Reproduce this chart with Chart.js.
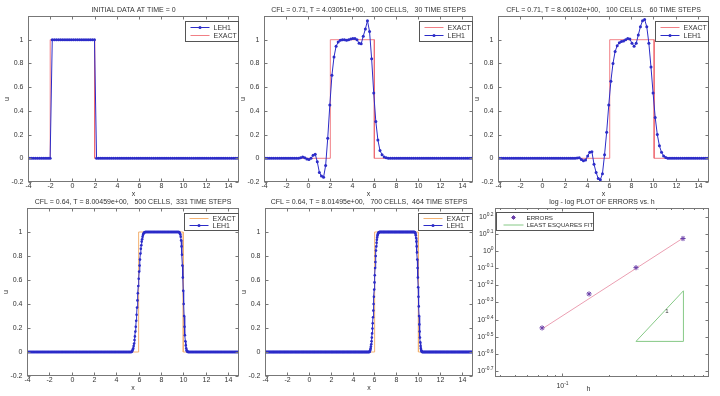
<!DOCTYPE html>
<html>
<head>
<meta charset="utf-8">
<script src="https://cdn.jsdelivr.net/npm/chart.js@4.4.1/dist/chart.umd.min.js"></script>
<style>
  html, body { margin: 0; padding: 0; background: #fff; }
  #fig { position: relative; width: 720px; height: 396px; overflow: hidden; background: #fff; }
  #fig canvas { position: absolute; }
</style>
</head>
<body>
<div id="fig"></div>
<script>
// ---- data ----
const X_MIN = -4, X_MAX = 15;
const xTicks = [-4, -2, 0, 2, 4, 6, 8, 10, 12, 14];
const uTicks = [-0.2, 0, 0.2, 0.4, 0.6, 0.8, 1];
const uTickLabels = ['-0.2', '0', '0.2', '0.4', '0.6', '0.8', '1'];

// exact solution: square pulse, corner points
const exactU = [0, 0, 1, 1, 0, 0];
const exactX0 = [-4, -2, -2, 2, 2, 15];
const exactX30 = [-4, 2.03, 2.03, 6.03, 6.03, 15];
const exactX60 = [-4, 6.06, 6.06, 10.06, 10.06, 15];
const exactX331 = [-4, 6.005, 6.005, 10.005, 10.005, 15];
const exactX464 = [-4, 6.015, 6.015, 10.015, 10.015, 15];

// LEH1 cell values (cell centres on [-4, 15])
const leh1T0 = [...run(0, 11), ...run(1, 21), ...run(0, 68)];
const leh1T30 = [...run(0, 17),
  0.005, 0.01, 0.005, -0.005, -0.01, 0, 0.025, 0.035, -0.03, -0.12, -0.15, -0.16, -0.06,
  0.17, 0.45, 0.70, 0.855, 0.945, 0.98, 0.995, 1.0, 1.0, 0.995, 1.0, 1.005, 1.01, 1.01,
  1.0, 0.97, 0.965, 1.03, 1.09, 1.16, 1.07, 0.84, 0.55, 0.31, 0.155, 0.065, 0.03, 0.01, 0.005,
  ...run(0, 41)];
const leh1T60 = [...run(0, 37),
  0.003, 0.005, -0.01, -0.02, -0.015, 0.02, 0.05, 0.055, -0.05, -0.12, -0.17, -0.18, -0.13,
  0.03, 0.22, 0.45, 0.65, 0.80, 0.90, 0.95, 0.975, 0.985, 0.99, 1.0, 1.01, 1.005, 0.97,
  0.945, 0.97, 1.04, 1.11, 1.16, 1.17, 1.11, 0.97, 0.77, 0.55, 0.345, 0.2, 0.105, 0.05, 0.02, 0.007,
  ...run(0, 20)];
const riseT331 = [0.005, 0.01, 0.02, 0.03, 0.05, 0.07, 0.10, 0.13, 0.17, 0.21, 0.26, 0.31, 0.37,
  0.43, 0.49, 0.55, 0.61, 0.67, 0.72, 0.77, 0.82, 0.86, 0.89, 0.92, 0.94, 0.96, 0.975, 0.985,
  0.99, 0.995, 0.998, 1.0];
const fallT331 = [1.0, 0.997, 0.99, 0.98, 0.96, 0.93, 0.88, 0.81, 0.72, 0.62, 0.51, 0.40, 0.30,
  0.21, 0.14, 0.09, 0.055, 0.03, 0.015, 0.007, 0.003, 0.001];
const leh1T331 = [...run(0, 247), ...riseT331, ...run(1, 79), ...fallT331, ...run(0, 120)];
const riseT464 = [0.005, 0.01, 0.018, 0.03, 0.045, 0.065, 0.09, 0.12, 0.155, 0.195, 0.24, 0.29,
  0.345, 0.40, 0.46, 0.52, 0.58, 0.64, 0.70, 0.75, 0.80, 0.845, 0.88, 0.91, 0.935, 0.955, 0.97,
  0.98, 0.988, 0.993, 0.996, 0.998, 1.0];
const fallT464 = [0.999, 0.997, 0.993, 0.985, 0.972, 0.95, 0.92, 0.88, 0.83, 0.77, 0.70, 0.62,
  0.54, 0.46, 0.38, 0.30, 0.23, 0.17, 0.12, 0.08, 0.05, 0.03, 0.016, 0.008, 0.003, 0.001];
const leh1T464 = [...run(0, 352), ...riseT464, ...run(1, 118), ...fallT464, ...run(0, 171)];

// convergence plot
const hVals = [0.0745, 0.149, 0.298, 0.596];
const errVals = [0.356, 0.562, 0.800, 1.183];
const fitH = [0.0745, 0.596];
const fitErr = [0.351, 1.189];
const triH = [0.298, 0.6, 0.6, 0.298];
const triErr = [0.297, 0.297, 0.586, 0.297];
const errTickExp = [0.2, 0.1, 0, -0.1, -0.2, -0.3, -0.4, -0.5, -0.6, -0.7];
const errTickLabels = ['0.2', '0.1', '0', '-0.1', '-0.2', '-0.3', '-0.4', '-0.5', '-0.6', '-0.7'];
const hMajor = [0.1];
const hMajorLabels = ['-1'];
const hMinor = [0.04, 0.05, 0.06, 0.07, 0.08, 0.09, 0.2, 0.3, 0.4, 0.5, 0.6, 0.7, 0.8];

function run(v, n) {
  return new Array(n).fill(v);
}

// ---- drawing ----
const fig = document.getElementById('fig');
const FONT = '"Liberation Sans", Arial, sans-serif';
const FS = 7;
const TXT = '#333';
const FRAME = '#777';
const BLUE = '#2c2cc8';
const RED = 'rgba(238, 104, 112, 0.85)';
const ORANGE = '#f3b272';
Chart.defaults.font.family = FONT;

function cellCentres(n) {
  const dx = (X_MAX - X_MIN) / n;
  return Array.from({ length: n }, (_, i) => X_MIN + (i + 0.5) * dx);
}
const pts = (xs, ys) => xs.map((x, i) => ({ x, y: ys[i] }));

function drawTickText(ctx, t, x, y, align, fs) {
  if (typeof t === 'string') {
    ctx.font = `${fs}px ${FONT}`;
    ctx.textAlign = align;
    ctx.fillText(t, x, y);
    return;
  }
  ctx.font = `${fs}px ${FONT}`;
  const wb = ctx.measureText('10').width;
  ctx.font = `${fs * 0.7}px ${FONT}`;
  const we = ctx.measureText(t.exp).width;
  let x0 = x;
  if (align === 'right') x0 = x - wb - we;
  else if (align === 'center') x0 = x - (wb + we) / 2;
  ctx.textAlign = 'left';
  ctx.font = `${fs}px ${FONT}`;
  ctx.fillText('10', x0, y);
  ctx.font = `${fs * 0.7}px ${FONT}`;
  ctx.fillText(t.exp, x0 + wb, y - 3);
}

const matlabAxes = {
  id: 'matlabAxes',
  afterDraw(chart) {
    const o = chart.options.plugins.matlabAxes;
    const { ctx, chartArea: a, scales } = chart;
    const L = Math.round(a.left) + 0.5, R = Math.round(a.right) - 0.5;
    const T = Math.round(a.top) + 0.5, B = Math.round(a.bottom) - 0.5;
    ctx.save();
    ctx.strokeStyle = FRAME;
    ctx.lineWidth = 1;
    ctx.strokeRect(L, T, R - L, B - T);
    ctx.fillStyle = TXT;
    ctx.textBaseline = 'middle';

    o.xTicks.forEach((t) => {
      const x = Math.round(scales.x.getPixelForValue(t.v)) + 0.5;
      const len = t.minor ? 1.5 : 3;
      ctx.beginPath();
      ctx.moveTo(x, B); ctx.lineTo(x, B - len);
      ctx.moveTo(x, T); ctx.lineTo(x, T + len);
      ctx.stroke();
      if (t.label) drawTickText(ctx, t.label, x, B + o.xLabelGap, 'center', FS);
    });
    o.yTicks.forEach((t) => {
      const y = Math.round(scales.y.getPixelForValue(t.v)) + 0.5;
      ctx.beginPath();
      ctx.moveTo(L, y); ctx.lineTo(L + 3, y);
      ctx.moveTo(R, y); ctx.lineTo(R - 3, y);
      ctx.stroke();
      drawTickText(ctx, t.label, L - o.yLabelGap, y, 'right', FS);
    });

    ctx.font = `${FS}px ${FONT}`;
    ctx.textAlign = 'center';
    ctx.fillText(o.title, (L + R) / 2, T - 6.5);
    ctx.fillText(o.xlabel, o.xlabelX != null ? L + o.xlabelX : (L + R) / 2, B + 13);
    if (o.ylabel) {
      ctx.save();
      ctx.translate(L - 21, (T + B) / 2);
      ctx.rotate(-Math.PI / 2);
      ctx.fillText(o.ylabel, 0, 0);
      ctx.restore();
    }
    (o.notes || []).forEach((n) => {
      ctx.font = `${FS - 1}px ${FONT}`;
      ctx.fillText(n.text, scales.x.getPixelForValue(n.x), scales.y.getPixelForValue(n.y));
    });

    const g = o.legend;
    const lx = Math.round(g.align === 'right' ? R - g.dx - g.w : L + g.dx) + 0.5;
    const ly = Math.round(T + g.dy) + 0.5;
    ctx.fillStyle = '#fff';
    ctx.fillRect(lx, ly, g.w, g.h);
    ctx.strokeStyle = '#555';
    ctx.strokeRect(lx, ly, g.w, g.h);
    g.items.forEach((it, k) => {
      const y = ly + g.row0 + k * g.gap;
      const x0 = lx + g.s0, x1 = lx + g.s1;
      ctx.strokeStyle = it.color;
      ctx.fillStyle = it.color;
      if (it.line) {
        ctx.beginPath();
        ctx.moveTo(x0, y); ctx.lineTo(x1, y);
        ctx.stroke();
      }
      if (it.dot) {
        ctx.beginPath();
        ctx.arc((x0 + x1) / 2, y, 1.5, 0, Math.PI * 2);
        ctx.fill();
      }
      if (it.star) {
        const cx = (x0 + x1) / 2, r = 2.2;
        ctx.beginPath();
        ctx.moveTo(cx - r, y); ctx.lineTo(cx + r, y);
        ctx.moveTo(cx, y - r); ctx.lineTo(cx, y + r);
        ctx.moveTo(cx - r * 0.7, y - r * 0.7); ctx.lineTo(cx + r * 0.7, y + r * 0.7);
        ctx.moveTo(cx - r * 0.7, y + r * 0.7); ctx.lineTo(cx + r * 0.7, y - r * 0.7);
        ctx.stroke();
      }
      ctx.fillStyle = TXT;
      ctx.textAlign = 'left';
      ctx.font = `${g.fs}px ${FONT}`;
      ctx.fillText(it.label, lx + g.tx, y + 0.5);
    });
    ctx.restore();
  }
};

function addChart(box, datasets, scales, axes) {
  const pad = { left: 30, top: 18, right: 8, bottom: 22 };
  const cv = document.createElement('canvas');
  const w = box.r - box.l + pad.left + pad.right;
  const h = box.b - box.t + pad.top + pad.bottom;
  cv.width = w;
  cv.height = h;
  cv.style.left = `${box.l - pad.left}px`;
  cv.style.top = `${box.t - pad.top}px`;
  cv.style.width = `${w}px`;
  cv.style.height = `${h}px`;
  fig.append(cv);
  return new Chart(cv, {
    type: 'line',
    data: { datasets },
    plugins: [matlabAxes],
    options: {
      responsive: false,
      animation: false,
      events: [],
      layout: { padding: pad },
      scales,
      plugins: { legend: { display: false }, tooltip: { enabled: false }, matlabAxes: axes }
    }
  });
}

const leh1Set = (n, us, r) => ({
  label: 'LEH1', data: pts(cellCentres(n), us), borderColor: BLUE, borderWidth: 1,
  pointRadius: r, pointBorderWidth: 0, pointBackgroundColor: BLUE, tension: 0
});
const exactSet = (xs, color) => ({
  label: 'EXACT', data: pts(xs, exactU), borderColor: color, borderWidth: 1, pointRadius: 0, tension: 0
});
const uScales = {
  x: { type: 'linear', display: false, min: X_MIN, max: X_MAX },
  y: { type: 'linear', display: false, min: -0.2, max: 1.2 }
};
const xT = xTicks.map((v) => ({ v, label: String(v) }));
const yT = uTicks.map((v, i) => ({ v, label: uTickLabels[i] }));
const legTop = { align: 'right', dx: 1, dy: 4, w: 53, h: 20, row0: 6, gap: 8, s0: 5, s1: 24, tx: 28, fs: FS };
const legBot = { align: 'right', dx: 1, dy: 4, w: 54, h: 17, row0: 5, gap: 7, s0: 5, s1: 24, tx: 28, fs: FS };
const itLeh = { label: 'LEH1', color: BLUE, line: true, dot: true };
const itExRed = { label: 'EXACT', color: RED, line: true };
const itExOr = { label: 'EXACT', color: ORANGE, line: true };
const uAxes = (title, legend) => ({
  title, xlabel: 'x', ylabel: 'u', xTicks: xT, yTicks: yT, xLabelGap: 4.5, yLabelGap: 5, legend
});

addChart({ l: 28, t: 16, r: 239, b: 182 },
  [leh1Set(100, leh1T0, 1.5), exactSet(exactX0, RED)], uScales,
  uAxes('INITIAL DATA AT TIME = 0', { ...legTop, items: [itLeh, itExRed] }));
addChart({ l: 264, t: 16, r: 473, b: 182 },
  [leh1Set(100, leh1T30, 1.5), exactSet(exactX30, RED)], uScales,
  uAxes('CFL = 0.71, T = 4.03051e+00,   100 CELLS,   30 TIME STEPS', { ...legTop, items: [itExRed, itLeh] }));
addChart({ l: 498, t: 16, r: 709, b: 182 },
  [leh1Set(100, leh1T60, 1.5), exactSet(exactX60, RED)], uScales,
  uAxes('CFL = 0.71, T = 8.06102e+00,   100 CELLS,   60 TIME STEPS', { ...legTop, items: [itExRed, itLeh] }));
addChart({ l: 27, t: 208, r: 239, b: 376 },
  [leh1Set(500, leh1T331, 1.3), exactSet(exactX331, ORANGE)], uScales,
  uAxes('CFL = 0.64, T = 8.00459e+00,   500 CELLS,  331 TIME STEPS', { ...legBot, items: [itExOr, itLeh] }));
addChart({ l: 265, t: 208, r: 473, b: 376 },
  [leh1Set(700, leh1T464, 1.3), exactSet(exactX464, ORANGE)], uScales,
  uAxes('CFL = 0.64, T = 8.01495e+00,   700 CELLS,  464 TIME STEPS', { ...legBot, items: [itExOr, itLeh] }));

// log-log error plot
addChart({ l: 495, t: 208, r: 709, b: 377 },
  [
    { label: 'ERRORS', data: pts(hVals, errVals), showLine: false, pointStyle: 'star',
      pointRadius: 2.6, pointBorderWidth: 1, pointBorderColor: '#6a3fa8' },
    { label: 'FIT', data: pts(fitH, fitErr), borderColor: '#eb9fb2', borderWidth: 1, pointRadius: 0 },
    { label: 'SLOPE', data: pts(triH, triErr), borderColor: '#86c986', borderWidth: 1, pointRadius: 0 }
  ],
  {
    x: { type: 'logarithmic', display: false, min: 0.0372, max: 0.875 },
    y: { type: 'logarithmic', display: false, min: Math.pow(10, -0.735), max: Math.pow(10, 0.251) }
  },
  {
    title: 'log - log PLOT OF ERRORS vs. h', xlabel: 'h', xlabelX: 93, ylabel: null,
    xTicks: [
      ...hMajor.map((v, i) => ({ v, label: { exp: hMajorLabels[i] } })),
      ...hMinor.map((v) => ({ v, minor: true }))
    ],
    yTicks: errTickExp.map((e, i) => ({ v: Math.pow(10, e), label: { exp: errTickLabels[i] } })),
    xLabelGap: 10, yLabelGap: 2,
    notes: [{ x: 0.47, y: 0.445, text: '1' }],
    legend: {
      align: 'left', dx: 0, dy: 3, w: 97, h: 18, row0: 5, gap: 7.5, s0: 7, s1: 27, tx: 30, fs: 6.2,
      items: [
        { label: 'ERRORS', color: '#6a3fa8', star: true },
        { label: 'LEAST ESQUARES FIT', color: '#86c986', line: true }
      ]
    }
  });
</script>
</body>
</html>
